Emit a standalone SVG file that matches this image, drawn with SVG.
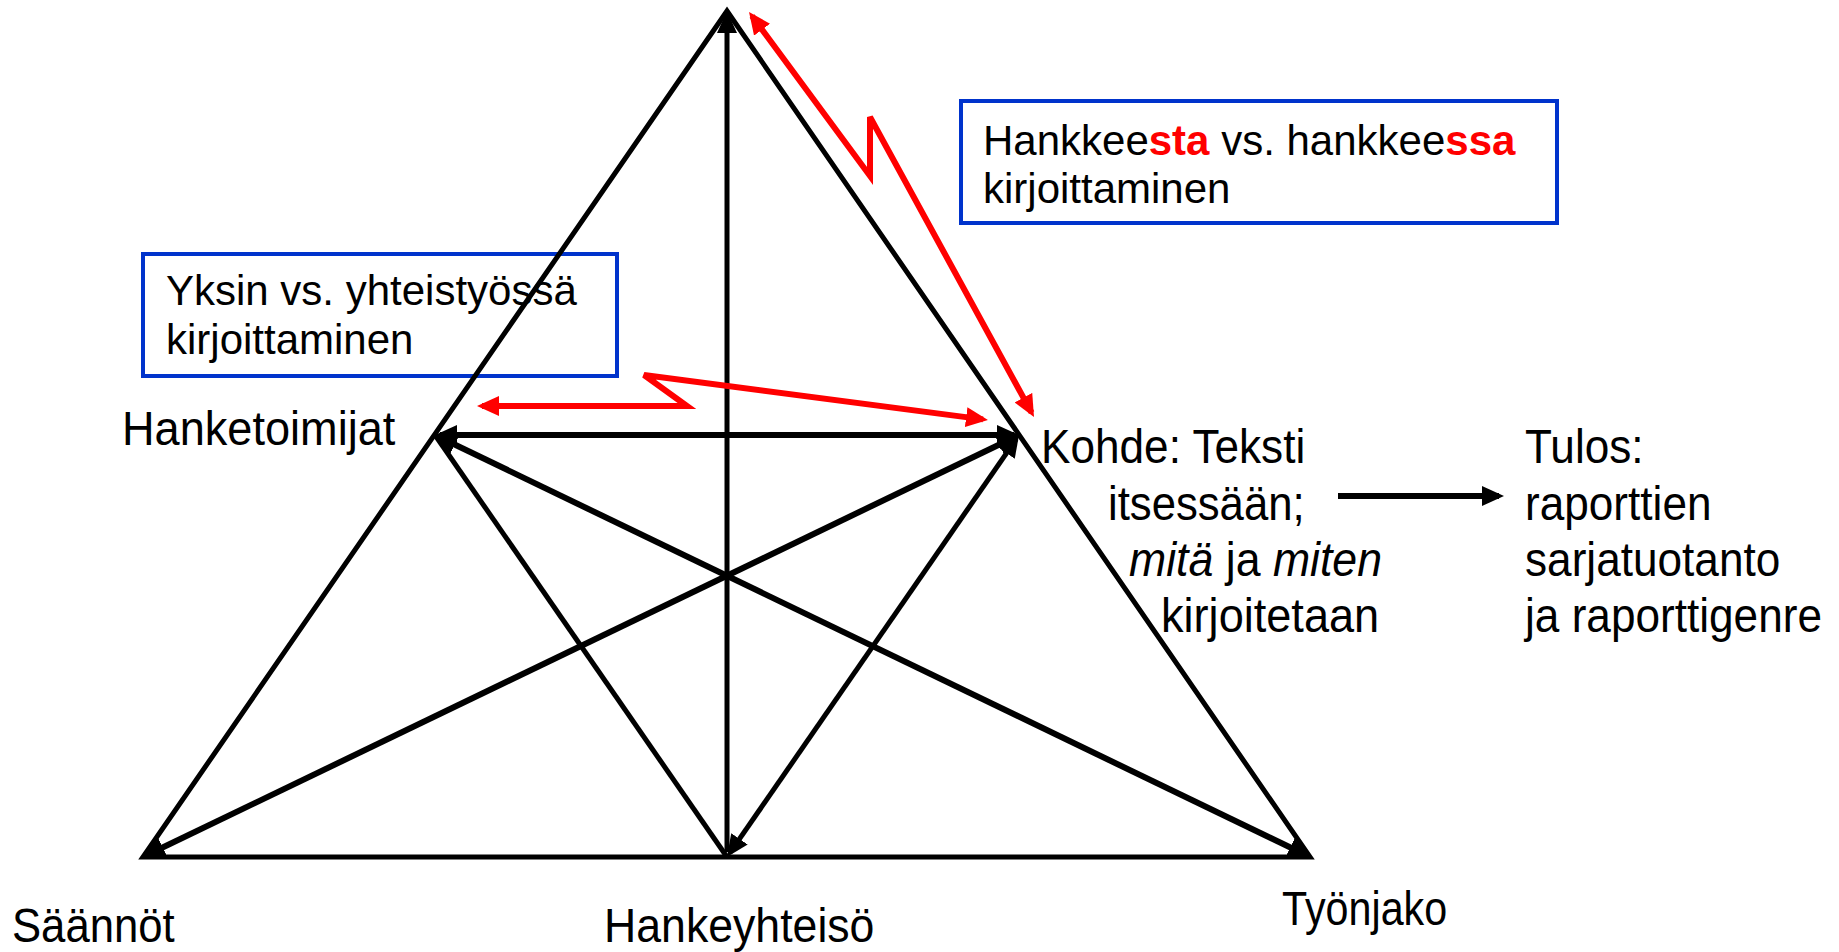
<svg xmlns="http://www.w3.org/2000/svg" width="1839" height="952" viewBox="0 0 1839 952">
<style>
.lbl{font-family:"Liberation Sans",Arial,sans-serif;font-size:48px;fill:#000}
.box{fill:none;stroke:#0033cc;stroke-width:4}
.btxt{font-family:"Liberation Sans",Arial,sans-serif;font-size:42px;fill:#000}
.hl{fill:#ff0000;font-weight:bold}
.outline{fill:none;stroke:#000;stroke-width:5;stroke-linejoin:miter}
.k{fill:none;stroke:#000}
.red{fill:none;stroke:#ff0000;stroke-width:6;stroke-linejoin:miter}
.it{font-style:italic}
</style>
<defs>
<marker id="ah" markerUnits="userSpaceOnUse" viewBox="0 0 22 20" markerWidth="22" markerHeight="20" refX="17" refY="10" orient="auto-start-reverse"><path d="M0,0 L22,10 L0,20 z" fill="#000"/></marker>
<marker id="ahr" markerUnits="userSpaceOnUse" viewBox="0 0 22 20" markerWidth="22" markerHeight="20" refX="17" refY="10" orient="auto-start-reverse"><path d="M0,0 L22,10 L0,20 z" fill="#ff0000"/></marker>
</defs>
<rect width="1839" height="952" fill="#fff"/>
<g id="note-hanke">
<rect class="box" x="961" y="101" width="596" height="122"/>
<text class="btxt" x="983" y="155">Hankkee<tspan class="hl">sta</tspan> vs. hankkee<tspan class="hl">ssa</tspan></text>
<text class="btxt" x="983" y="203">kirjoittaminen</text>
</g>
<g id="note-yksin">
<rect class="box" x="143" y="254" width="474" height="122"/>
<text class="btxt" x="166" y="305">Yksin vs. yhteistyössä</text>
<text class="btxt" x="166" y="354">kirjoittaminen</text>
</g>
<g id="triangle">
<polygon class="outline" points="727,11 143,857 1310,857"/>
</g>
<g id="connectors">
<line class="k" stroke-width="5" x1="727" y1="852" x2="727" y2="16" marker-end="url(#ah)"/>
<line class="k" stroke-width="6" x1="440" y1="435" x2="1014" y2="435" marker-start="url(#ah)" marker-end="url(#ah)"/>
<line class="k" stroke-width="6" x1="439.5" y1="437.2" x2="1305.5" y2="854.8" marker-start="url(#ah)" marker-end="url(#ah)"/>
<line class="k" stroke-width="6" x1="1014.5" y1="437.2" x2="147.5" y2="854.8" marker-start="url(#ah)" marker-end="url(#ah)"/>
<line class="k" stroke-width="5" x1="435" y1="435" x2="727" y2="857"/>
<line class="k" stroke-width="5" x1="1016.2" y1="439.1" x2="729.8" y2="852.9" marker-start="url(#ah)" marker-end="url(#ah)"/>
<polyline class="red" points="752,16 870,176 870,117 1031.6,412.6" marker-start="url(#ahr)" marker-end="url(#ahr)"/>
<polyline class="red" points="482,406 687,406 644,375 983,419.4" marker-start="url(#ahr)" marker-end="url(#ahr)"/>
<line class="k" stroke-width="6" x1="1338" y1="496" x2="1499" y2="496" marker-end="url(#ah)"/>
</g>
<g id="node-hanketoimijat"><text class="lbl" transform="translate(122,445) scale(0.94,1)">Hanketoimijat</text></g>
<g id="node-kohde">
<text class="lbl" transform="translate(1041,463) scale(0.92,1)">Kohde: Teksti</text>
<text class="lbl" transform="translate(1108,520) scale(0.91,1)">itsessään;</text>
<text class="lbl" transform="translate(1129,576) scale(0.93,1)"><tspan class="it">mitä</tspan> ja <tspan class="it">miten</tspan></text>
<text class="lbl" transform="translate(1161,632) scale(0.94,1)">kirjoitetaan</text>
</g>
<g id="node-tulos">
<text class="lbl" transform="translate(1525,463) scale(0.92,1)">Tulos:</text>
<text class="lbl" transform="translate(1525,520) scale(0.92,1)">raporttien</text>
<text class="lbl" transform="translate(1525,576) scale(0.92,1)">sarjatuotanto</text>
<text class="lbl" transform="translate(1525,632) scale(0.92,1)">ja raporttigenre</text>
</g>
<g id="node-saannot"><text class="lbl" transform="translate(12,942) scale(0.91,1)">Säännöt</text></g>
<g id="node-hankeyhteiso"><text class="lbl" transform="translate(604,942) scale(0.93,1)">Hankeyhteisö</text></g>
<g id="node-tyonjako"><text class="lbl" transform="translate(1282,925) scale(0.86,1)">Työnjako</text></g>
</svg>
